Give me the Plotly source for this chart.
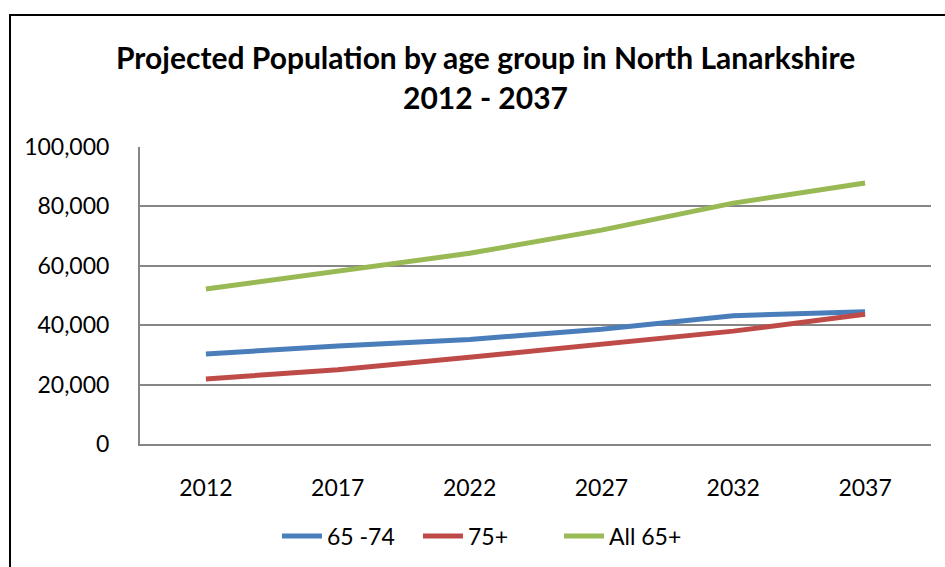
import plotly.graph_objects as go

years = ["2012", "2017", "2022", "2027", "2032", "2037"]
age_65_74 = [30300, 33000, 35200, 38600, 43200, 44500]
age_75_plus = [21900, 25000, 29200, 33700, 38000, 43700]
all_65_plus = [52200, 58000, 64200, 72000, 81100, 87900]
y_ticks = [0, 20000, 40000, 60000, 80000, 100000]
y_tick_labels = ["0", "20,000", "40,000", "60,000", "80,000", "100,000"]

FONT = "Lato"
W, H = 945, 567
L, R, T, B = 140, 14, 147, 123
pw, ph = W - L - R, H - T - B

fig = go.Figure()
for name, vals, col in [("65 -74", age_65_74, "#4A7EBB"),
                        ("75+", age_75_plus, "#BE4B48"),
                        ("All 65+", all_65_plus, "#98B954")]:
    fig.add_trace(go.Scatter(x=years, y=vals, name=name, mode="lines",
                             line=dict(color=col, width=5)))

def px_x(x):
    return (x - L) / pw

def px_y(y):
    return 1 - (y - T) / ph

fig.update_layout(
    width=W, height=H,
    margin=dict(l=L, r=R, t=T, b=B, autoexpand=False),
    paper_bgcolor="white", plot_bgcolor="white",
    font=dict(family=FONT, color="black", size=23),
    showlegend=True,
    legend=dict(orientation="h", x=px_x(277), xanchor="left",
                y=px_y(536), yanchor="middle",
                font=dict(size=23, family=FONT), itemwidth=40,
                entrywidth=86, entrywidthmode="pixels",
                traceorder="normal"),
    xaxis=dict(type="category", range=[-0.5, 5.5], showgrid=False,
               showline=True, automargin=False,
               linecolor="#868686", linewidth=2, ticks="",
               tickfont=dict(size=23), ticklabelstandoff=22),
    yaxis=dict(range=[0, 100000], tickvals=y_ticks, ticktext=y_tick_labels,
               showgrid=True, gridcolor="#868686", gridwidth=2,
               showline=True, linecolor="#868686", linewidth=2,
               automargin=False,
               zeroline=False, ticks="", tickfont=dict(size=23),
               ticklabelstandoff=24),
    annotations=[
        dict(text="<b>Projected Population by age group in North Lanarkshire</b>",
             xref="paper", yref="paper", x=px_x(485.5), y=px_y(57),
             xanchor="center", yanchor="middle", showarrow=False,
             font=dict(size=30, family=FONT)),
        dict(text="<b>2012 - 2037</b>",
             xref="paper", yref="paper", x=px_x(485.5), y=px_y(97),
             xanchor="center", yanchor="middle", showarrow=False,
             font=dict(size=30, family=FONT)),
    ],
    shapes=[
        dict(type="rect", xref="paper", yref="paper",
             x0=px_x(10), x1=px_x(960), y0=px_y(15), y1=px_y(600),
             line=dict(color="black", width=2), fillcolor="rgba(0,0,0,0)",
             layer="below"),
    ],
)

fig.write_html("out.html", config={"displayModeBar": False},
               post_script="document.body.style.margin='0';document.body.style.overflow='hidden';")
